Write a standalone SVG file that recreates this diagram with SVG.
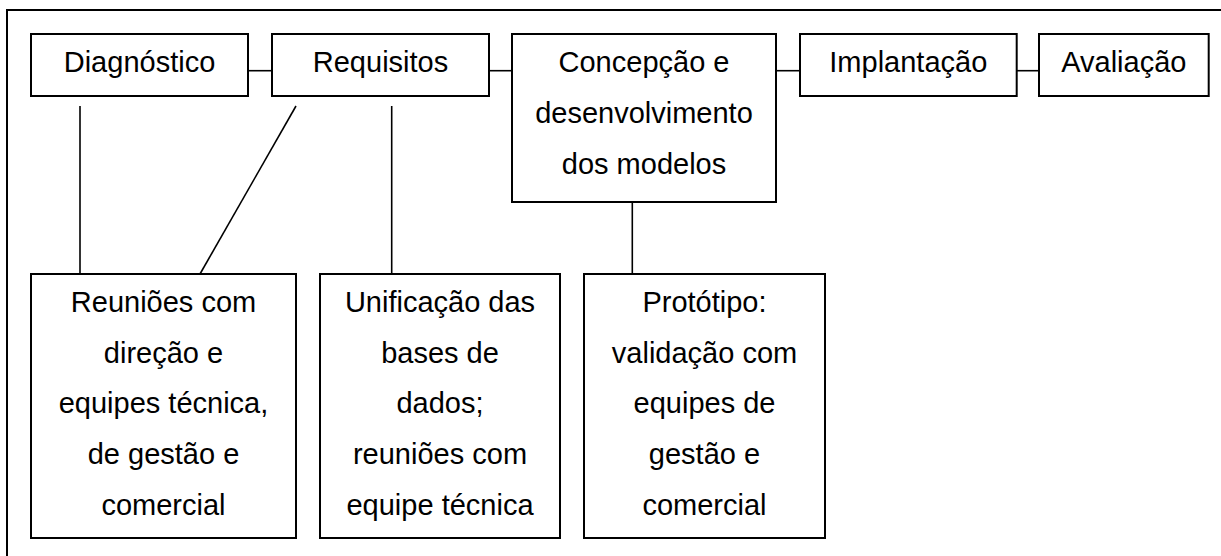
<svg xmlns="http://www.w3.org/2000/svg" width="1221" height="556" viewBox="0 0 1221 556">
<style>
.box{fill:#fff;stroke:#000;stroke-width:2}
.ln{stroke:#000;stroke-width:1.6;fill:none}
.frame{stroke:#000;stroke-width:2;fill:none}
text{font-family:"Liberation Sans",Arial,sans-serif;font-size:29px;fill:#000;text-anchor:middle}
</style>
<rect width="1221" height="556" fill="#fff"/>
<path class="frame" d="M7,556 V10 H1221"/>
<g id="connectors">
<line class="ln" x1="248" y1="70.7" x2="272" y2="70.7"/>
<line class="ln" x1="489" y1="70.7" x2="512" y2="70.7"/>
<line class="ln" x1="776" y1="70.7" x2="800" y2="70.7"/>
<line class="ln" x1="1016.7" y1="70.7" x2="1039" y2="70.7"/>
<line class="ln" x1="80" y1="106" x2="80" y2="274"/>
<line class="ln" x1="296" y1="106" x2="200" y2="274"/>
<line class="ln" x1="391.7" y1="106" x2="391.7" y2="274"/>
<line class="ln" x1="632.3" y1="202" x2="632.3" y2="274"/>
</g>
<g id="diagnostico">
<rect class="box" x="31" y="34" width="217" height="62"/>
<text x="139.5" y="72">Diagnóstico</text>
</g>
<g id="requisitos">
<rect class="box" x="272" y="34" width="217" height="62"/>
<text x="380.5" y="72">Requisitos</text>
</g>
<g id="concepcao">
<rect class="box" x="512" y="34" width="264" height="168"/>
<text x="644" y="72">Concepção e</text>
<text x="644" y="123">desenvolvimento</text>
<text x="644" y="174">dos modelos</text>
</g>
<g id="implantacao">
<rect class="box" x="800" y="34" width="216.7" height="62"/>
<text x="908.3" y="72">Implantação</text>
</g>
<g id="avaliacao">
<rect class="box" x="1039" y="34" width="169.7" height="62"/>
<text x="1123.8" y="72">Avaliação</text>
</g>
<g id="reunioes">
<rect class="box" x="31" y="274" width="265" height="264"/>
<text x="163.5" y="312">Reuniões com</text>
<text x="163.5" y="362.5">direção e</text>
<text x="163.5" y="413">equipes técnica,</text>
<text x="163.5" y="464">de gestão e</text>
<text x="163.5" y="514.5">comercial</text>
</g>
<g id="unificacao">
<rect class="box" x="320" y="274" width="240" height="264"/>
<text x="440" y="312">Unificação das</text>
<text x="440" y="362.5">bases de</text>
<text x="440" y="413">dados;</text>
<text x="440" y="464">reuniões com</text>
<text x="440" y="514.5">equipe técnica</text>
</g>
<g id="prototipo">
<rect class="box" x="584" y="274" width="241" height="264"/>
<text x="704.5" y="312">Protótipo:</text>
<text x="704.5" y="362.5">validação com</text>
<text x="704.5" y="413">equipes de</text>
<text x="704.5" y="464">gestão e</text>
<text x="704.5" y="514.5">comercial</text>
</g>
</svg>
